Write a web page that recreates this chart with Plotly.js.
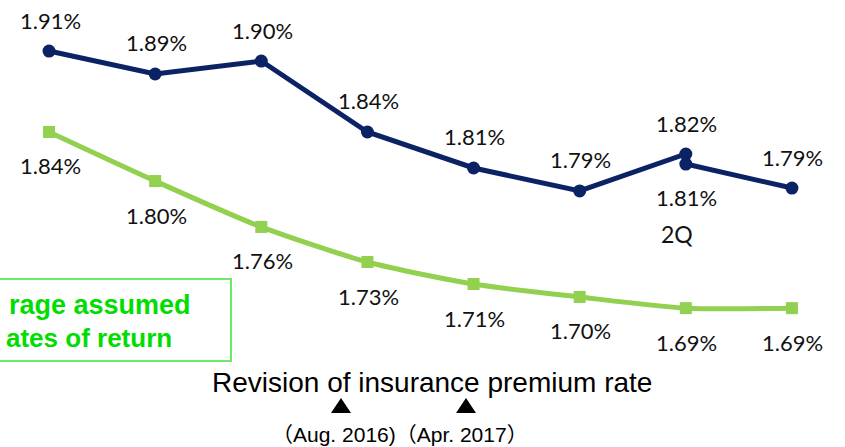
<!DOCTYPE html>
<html>
<head>
<meta charset="utf-8">
<script src="https://cdn.plot.ly/plotly-3.0.1.min.js"></script>
<style>html,body{margin:0;padding:0;background:#fff;}#chart{width:845px;height:447px;}</style>
</head>
<body>
<div id="chart"></div>
<script>
// Navy series (the period with two points at index 6 is the "2Q" point)
var navyX = [0, 1, 2, 3, 4, 5, 6, 6, 7];
var navyY = [1.9095, 1.8898, 1.9009, 1.8400, 1.8091, 1.7894, 1.8211, 1.8125, 1.7919];
var navyLabels = ['1.91%', '1.89%', '1.90%', '1.84%', '1.81%', '1.79%', '1.82%', '1.81%', '1.79%'];
var navyLabelSide = ['above', 'above', 'above', 'above', 'above', 'above', 'above', 'below', 'above'];

// Green series
var greenX = [0, 1, 2, 3, 4, 5, 6, 7];
var greenY = [1.8400, 1.7979, 1.7585, 1.7284, 1.7095, 1.6984, 1.6888, 1.6888];
var greenLabels = ['1.84%', '1.80%', '1.76%', '1.73%', '1.71%', '1.70%', '1.69%', '1.69%'];

var navy = '#0B2265';
var green = '#92D050';
var labelFont = {family: 'Lato, "Noto Sans", sans-serif', size: 22, color: '#111111'};

var traces = [
  {x: greenX, y: greenY, type: 'scatter', mode: 'lines+markers',
   line: {color: green, width: 5, shape: 'spline', smoothing: 0.7},
   marker: {symbol: 'square', size: 12, color: green}, hoverinfo: 'skip'},
  {x: navyX, y: navyY, type: 'scatter', mode: 'lines+markers',
   line: {color: navy, width: 5},
   marker: {symbol: 'circle', size: 13, color: navy}, hoverinfo: 'skip'}
];

var annotations = [];
for (var i = 0; i < navyX.length; i++) {
  annotations.push({x: navyX[i], y: navyY[i], xref: 'x', yref: 'y', text: navyLabels[i],
    showarrow: false, xanchor: 'center', yanchor: 'middle', xshift: 1,
    yshift: navyLabelSide[i] === 'above' ? 31 : -33, font: labelFont});
}
for (var j = 0; j < greenX.length; j++) {
  annotations.push({x: greenX[j], y: greenY[j], xref: 'x', yref: 'y', text: greenLabels[j],
    showarrow: false, xanchor: 'center', yanchor: 'middle', xshift: 1,
    yshift: -34, font: labelFont});
}
// "2Q" marker text
annotations.push({x: 6, y: 1.8125, xref: 'x', yref: 'y', text: '2Q', showarrow: false,
  xanchor: 'center', yanchor: 'middle', xshift: -9, yshift: -70,
  font: {family: 'Lato, "Noto Sans", sans-serif', size: 23, color: '#111111'}});

// Legend-like box text (partially cut off at the left edge)
var legendFont = {family: '"Liberation Sans", Arial, sans-serif', size: 27, color: '#00DD00'};
annotations.push({xref: 'paper', yref: 'paper', x: 193/845, y: 1 - 305/447, text: '<b>rage assumed</b>',
  showarrow: false, xanchor: 'right', yanchor: 'middle', font: legendFont});
annotations.push({xref: 'paper', yref: 'paper', x: 174/845, y: 1 - 338/447, text: '<b>ates of return</b>',
  showarrow: false, xanchor: 'right', yanchor: 'middle',
  font: {family: legendFont.family, size: 26, color: legendFont.color}});

// Revision note
annotations.push({xref: 'paper', yref: 'paper', x: 432/845, y: 1 - 382/447,
  text: 'Revision of insurance premium rate', showarrow: false, xanchor: 'center', yanchor: 'middle',
  font: {family: '"Liberation Sans", Arial, sans-serif', size: 28, color: '#000000'}});
annotations.push({xref: 'paper', yref: 'paper', x: 400/845, y: 1 - 434/447,
  text: '（Aug. 2016)（Apr. 2017）', showarrow: false, xanchor: 'center', yanchor: 'middle',
  font: {family: '"Liberation Sans", "Noto Sans CJK JP", sans-serif', size: 21, color: '#000000'}});

function tri(cx) {
  var w = 10 / 845, top = 1 - 398 / 447, bot = 1 - 413 / 447;
  return {type: 'path', xref: 'paper', yref: 'paper',
    path: 'M ' + (cx / 845 - w) + ' ' + bot + ' L ' + (cx / 845 + w) + ' ' + bot + ' L ' + (cx / 845) + ' ' + top + ' Z',
    fillcolor: '#000000', line: {color: '#000000', width: 0}};
}

var layout = {
  width: 845, height: 447,
  margin: {l: 0, r: 0, t: 0, b: 0},
  paper_bgcolor: '#ffffff', plot_bgcolor: '#ffffff',
  showlegend: false,
  xaxis: {range: [-0.462, 7.5], visible: false, fixedrange: true},
  yaxis: {range: [1.5696, 1.9533], visible: false, fixedrange: true},
  annotations: annotations,
  shapes: [
    {type: 'rect', xref: 'paper', yref: 'paper', x0: -10/845, x1: 231/845, y0: 1 - 361/447, y1: 1 - 279/447,
     line: {color: '#66EE66', width: 2}, fillcolor: 'rgba(0,0,0,0)', layer: 'below'},
    tri(341), tri(466)
  ]
};

Plotly.newPlot('chart', traces, layout, {staticPlot: true, displayModeBar: false});
</script>
</body>
</html>
